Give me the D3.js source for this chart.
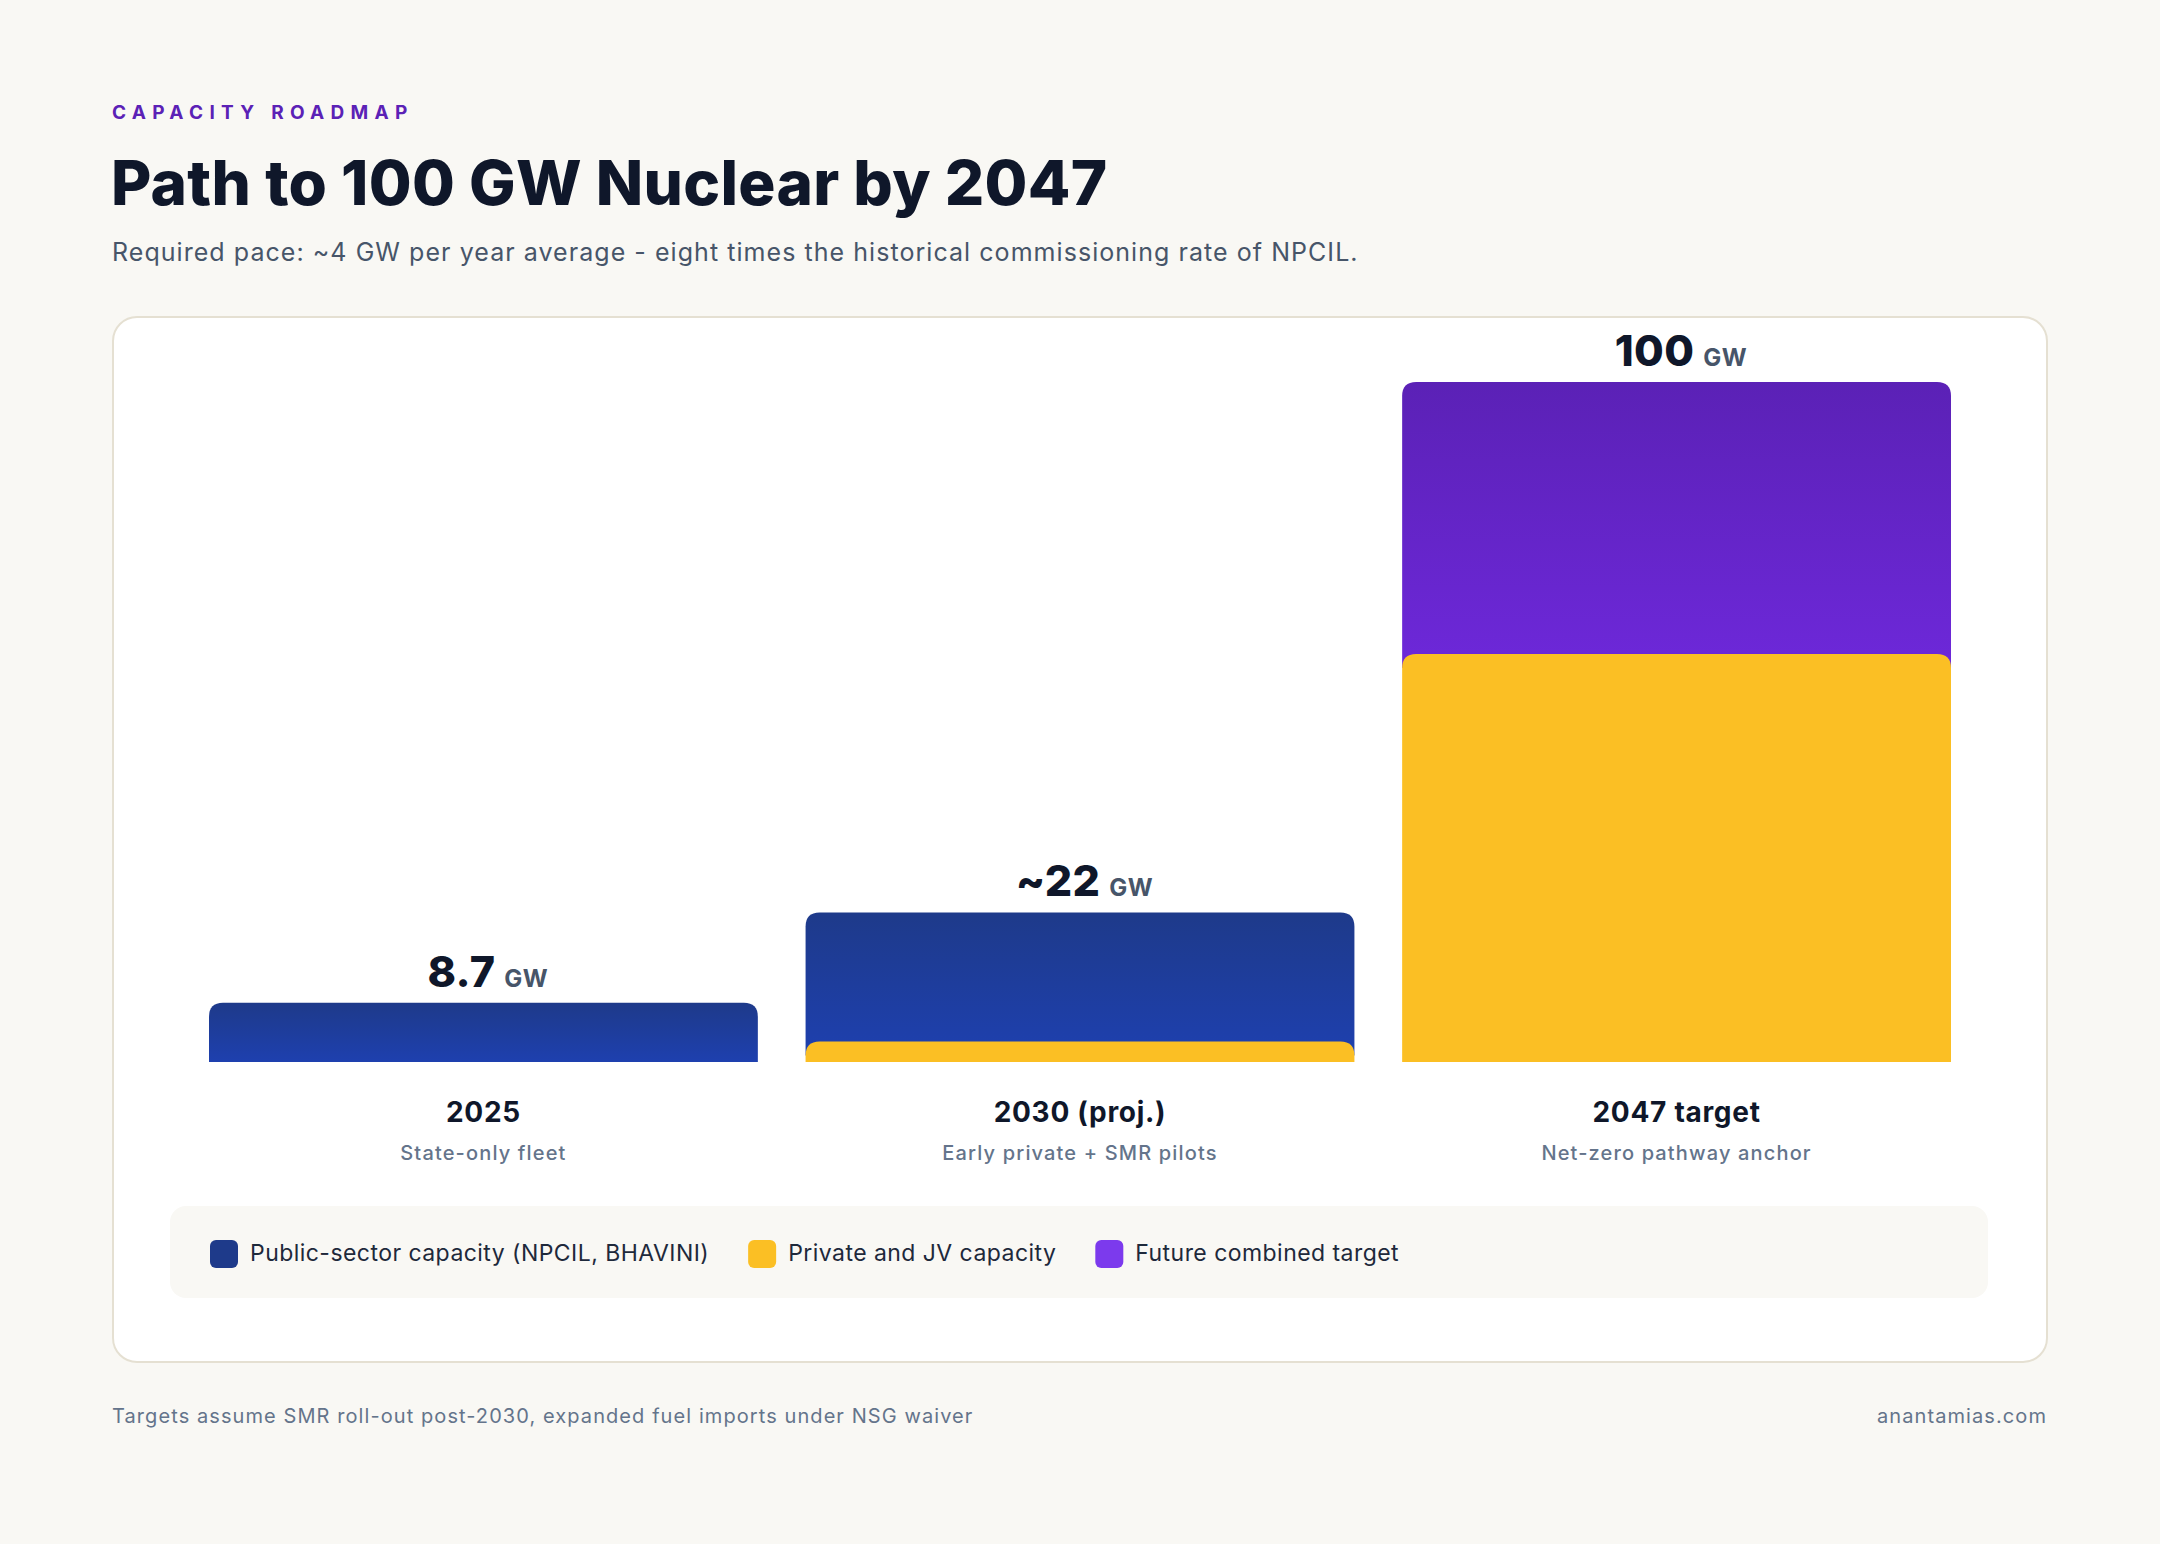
<!DOCTYPE html>
<html><head><meta charset="utf-8">
<script src="https://cdn.jsdelivr.net/npm/d3@7"></script>
<style>
html,body{margin:0;padding:0;background:#f9f8f4;}
svg{display:block;font-family:Inter,"Noto Sans",sans-serif;}
</style></head>
<body>
<svg id="chart" width="2160" height="1544"></svg>
<script>
const categories = ["2025", "2030 (proj.)", "2047 target"];
const subLabels = ["State-only fleet", "Early private + SMR pilots", "Net-zero pathway anchor"];
const totalLabels = ["8.7", "~22", "100"];
const privateJV = [0, 3, 60];
const publicSector = [8.7, 19, 0];
const futureTarget = [0, 0, 40];
const seriesNames = ["Public-sector capacity (NPCIL, BHAVINI)", "Private and JV capacity", "Future combined target"];
const seriesKeys = ["public", "private", "future"];
const yDomain = [0, 100];

const svg = d3.select("#chart");
svg.append("rect").attr("width", 2160).attr("height", 1544).attr("fill", "#f9f8f4");

const defs = svg.append("defs");
function grad(id, c1, c2) {
  const g = defs.append("linearGradient").attr("id", id).attr("x1", 0).attr("y1", 0).attr("x2", 0).attr("y2", 1);
  g.append("stop").attr("offset", "0%").attr("stop-color", c1);
  g.append("stop").attr("offset", "100%").attr("stop-color", c2);
}
grad("gPublic", "#1e3a8a", "#1e40af");
grad("gFuture", "#5b21b6", "#6d28d9");
grad("gPrivate", "#fbbf24", "#fbbf24");
const fills = {public: "url(#gPublic)", private: "url(#gPrivate)", future: "url(#gFuture)"};
const swatch = {public: "#1e3a8a", private: "#fbbf24", future: "#7c3aed"};

// Header
svg.append("text").attr("x", 112).attr("y", 119).text("CAPACITY ROADMAP")
  .attr("font-size", 19).attr("font-weight", 700).attr("letter-spacing", 6.3).attr("fill", "#5b21b6");
svg.append("text").attr("x", 111).attr("y", 205).text("Path to 100 GW Nuclear by 2047")
  .attr("font-size", 62).attr("font-weight", 800).attr("letter-spacing", 0.3).attr("fill", "#0f172a");
svg.append("text").attr("x", 112).attr("y", 261).text("Required pace: ~4 GW per year average - eight times the historical commissioning rate of NPCIL.")
  .attr("font-size", 25).attr("letter-spacing", 1.05).attr("fill", "#475569");

// Card
svg.append("rect").attr("x", 113).attr("y", 317).attr("width", 1934).attr("height", 1045)
  .attr("rx", 24).attr("fill", "#ffffff").attr("stroke", "#e5e0d2").attr("stroke-width", 2);

// Scales
const x = d3.scaleBand().domain(categories).range([209, 1951]).paddingInner(0.08).paddingOuter(0);
const y = d3.scaleLinear().domain(yDomain).range([1062, 382]);

const stackOrder = ["private", "public", "future"];
const rows = categories.map((c, i) => ({cat: c, private: privateJV[i], public: publicSector[i], future: futureTarget[i]}));
const stacked = d3.stack().keys(stackOrder)(rows);

const r = 14;
function topRounded(x0, w, yTop, yBot) {
  const rr = Math.min(r, (yBot - yTop));
  return `M${x0},${yBot} L${x0},${yTop + rr} Q${x0},${yTop} ${x0 + rr},${yTop} L${x0 + w - rr},${yTop} Q${x0 + w},${yTop} ${x0 + w},${yTop + rr} L${x0 + w},${yBot} Z`;
}

// draw from top of stack downward so lower segments overlap upper ones
const barsG = svg.append("g");
for (let s = stacked.length - 1; s >= 0; s--) {
  const layer = stacked[s];
  const key = layer.key;
  barsG.selectAll(null).data(layer.filter(d => d[1] - d[0] > 0)).enter().append("path")
    .attr("d", d => {
      const yTop = y(d[1]);
      const yBot = Math.min(y(0), y(d[0]) + r);
      return topRounded(x(d.data.cat), x.bandwidth(), yTop, yBot);
    })
    .attr("fill", fills[key]);
}

// Value labels
const totals = rows.map(d => d.private + d.public + d.future);
categories.forEach((c, i) => {
  const g = svg.append("g");
  const t = g.append("text").attr("y", y(totals[i]) - 16).attr("font-weight", 800).attr("fill", "#0f172a");
  t.append("tspan").attr("font-size", 43).attr("letter-spacing", 0.3).text(totalLabels[i]);
  t.append("tspan").attr("font-size", 24).attr("font-weight", 700).attr("letter-spacing", 0.6).attr("fill", "#475569").attr("dx", 9).text("GW");
  const w = t.node().getComputedTextLength();
  t.attr("x", x(c) + x.bandwidth() / 2 - w / 2);
});

// Category labels
svg.selectAll(null).data(categories).enter().append("text")
  .attr("x", d => x(d) + x.bandwidth() / 2).attr("y", 1122).attr("text-anchor", "middle")
  .attr("font-size", 28).attr("font-weight", 700).attr("letter-spacing", 0.7).attr("fill", "#0f172a").text(d => d);
svg.selectAll(null).data(subLabels).enter().append("text")
  .attr("x", (d, i) => x(categories[i]) + x.bandwidth() / 2).attr("y", 1160).attr("text-anchor", "middle")
  .attr("font-size", 20).attr("font-weight", 500).attr("letter-spacing", 1.15).attr("fill", "#64748b").text(d => d);

// Legend
svg.append("rect").attr("x", 170).attr("y", 1206).attr("width", 1818).attr("height", 92).attr("rx", 16).attr("fill", "#f9f8f4");
let lx = 210;
seriesKeys.forEach((k, i) => {
  svg.append("rect").attr("x", lx).attr("y", 1240).attr("width", 28).attr("height", 28).attr("rx", 6).attr("fill", swatch[k]);
  const t = svg.append("text").attr("x", lx + 40).attr("y", 1261).attr("font-size", 23).attr("letter-spacing", 0.45).attr("fill", "#1e293b").text(seriesNames[i]);
  lx = lx + 40 + t.node().getComputedTextLength() + 39;
});

// Footer
svg.append("text").attr("x", 112).attr("y", 1423).attr("font-size", 20).attr("letter-spacing", 1.08).attr("fill", "#64748b")
  .text("Targets assume SMR roll-out post-2030, expanded fuel imports under NSG waiver");
svg.append("text").attr("x", 2047).attr("y", 1423).attr("text-anchor", "end").attr("font-size", 20).attr("letter-spacing", 1.08).attr("fill", "#64748b")
  .text("anantamias.com");
</script>
</body></html>
